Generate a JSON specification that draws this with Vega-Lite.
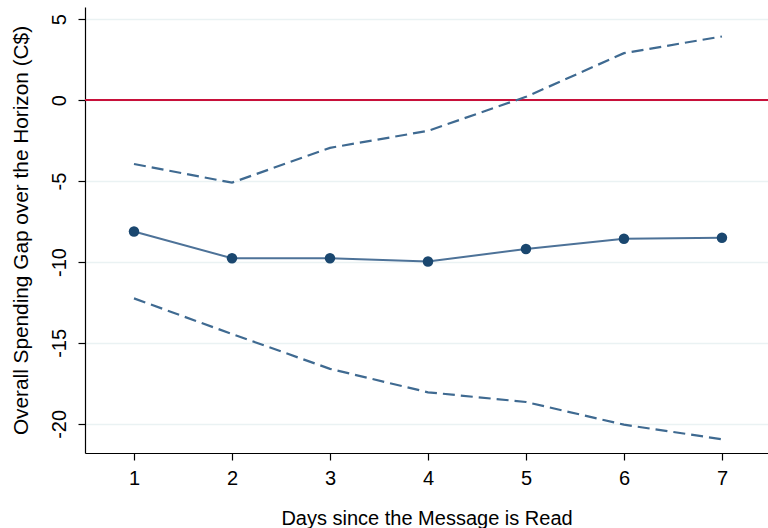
{
  "$schema": "https://vega.github.io/schema/vega-lite/v6.json",
  "width": 683,
  "height": 446,
  "autosize": {"type": "none"},
  "padding": {"left": 85, "top": 7, "right": 0, "bottom": 75},
  "background": "white",
  "config": {
    "view": {"stroke": null},
    "font": "Liberation Sans",
    "axis": {"labelFont": "Liberation Sans", "titleFont": "Liberation Sans", "labelColor": "#000000", "titleColor": "#000000", "titleFontWeight": "normal", "domainColor": "#000000", "tickColor": "#000000"}
  },
  "datasets": {
    "ci": [
      {"day": 1, "bound": "upper", "value": -3.95},
      {"day": 2, "bound": "upper", "value": -5.1},
      {"day": 3, "bound": "upper", "value": -2.95},
      {"day": 4, "bound": "upper", "value": -1.9},
      {"day": 5, "bound": "upper", "value": 0.2},
      {"day": 6, "bound": "upper", "value": 2.9},
      {"day": 7, "bound": "upper", "value": 3.93},
      {"day": 1, "bound": "lower", "value": -12.25},
      {"day": 2, "bound": "lower", "value": -14.45},
      {"day": 3, "bound": "lower", "value": -16.6},
      {"day": 4, "bound": "lower", "value": -18.05},
      {"day": 5, "bound": "lower", "value": -18.65},
      {"day": 6, "bound": "lower", "value": -20.05},
      {"day": 7, "bound": "lower", "value": -20.95}
    ],
    "est": [
      {"day": 1, "value": -8.12},
      {"day": 2, "value": -9.77},
      {"day": 3, "value": -9.77},
      {"day": 4, "value": -9.97},
      {"day": 5, "value": -9.2},
      {"day": 6, "value": -8.57},
      {"day": 7, "value": -8.5}
    ],
    "ref": [{"y": 0}]
  },
  "layer": [
    {
      "data": {"name": "ref"},
      "mark": {"type": "rule", "color": "#c8103a", "strokeWidth": 2},
      "encoding": {
        "y": {
          "field": "y", "type": "quantitative",
          "scale": {"domain": [-21.8, 5.75], "nice": false, "zero": false},
          "axis": {
            "values": [5, 0, -5, -10, -15, -20],
            "labelExpr": "datum.value < 0 ? '-' + abs(datum.value) : '' + datum.value",
            "title": "Overall Spending Gap over the Horizon (C$)",
            "titleFontSize": 20.8,
            "titlePadding": 18,
            "labelFontSize": 20,
            "labelAngle": -90,
            "labelAlign": "center",
            "labelBaseline": "bottom",
            "labelPadding": 9,
            "tickSize": 7,
            "grid": true,
            "gridColor": "#eaf2f3",
            "gridWidth": 1.5,
            "domainWidth": 1.2,
            "tickWidth": 1.2
          }
        }
      }
    },
    {
      "data": {"name": "ci"},
      "mark": {"type": "line", "strokeDash": [12, 6], "strokeWidth": 2.2, "color": "#3f6a91"},
      "encoding": {
        "x": {
          "field": "day", "type": "quantitative",
          "scale": {"domain": [0.5, 7.47], "nice": false, "zero": false},
          "axis": {
            "values": [1, 2, 3, 4, 5, 6, 7],
            "format": "d",
            "title": "Days since the Message is Read",
            "titleFontSize": 20,
            "titlePadding": 20,
            "labelFontSize": 20,
            "labelPadding": 8,
            "tickSize": 7,
            "grid": false,
            "domainWidth": 1.2,
            "tickWidth": 1.2
          }
        },
        "y": {"field": "value", "type": "quantitative"},
        "detail": {"field": "bound"}
      }
    },
    {
      "data": {"name": "est"},
      "mark": {"type": "line", "strokeWidth": 2, "color": "#4d7298"},
      "encoding": {
        "x": {"field": "day", "type": "quantitative"},
        "y": {"field": "value", "type": "quantitative"}
      }
    },
    {
      "data": {"name": "est"},
      "mark": {"type": "point", "filled": true, "opacity": 1, "size": 110, "color": "#1a476f"},
      "encoding": {
        "x": {"field": "day", "type": "quantitative"},
        "y": {"field": "value", "type": "quantitative"}
      }
    }
  ]
}
